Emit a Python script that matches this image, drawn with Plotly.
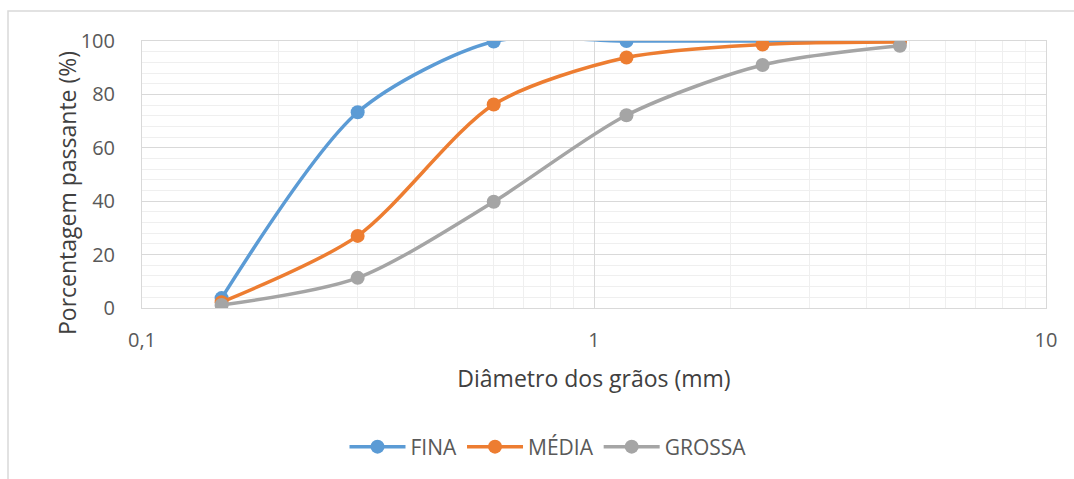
import plotly.graph_objects as go

# Sieve openings (mm) and percentage passing for each sand
abertura_mm = [0.15, 0.3, 0.6, 1.18, 2.36, 4.75]
fina = [3.7, 73.3, 99.8, 100.0, 100.0, 100.0]
media = [2.2, 27.0, 76.2, 93.8, 98.7, 99.6]
grossa = [1.1, 11.3, 39.8, 72.2, 91.0, 98.2]

series = [
    ("FINA", fina, "#5b9bd5"),
    ("MÉDIA", media, "#ed7d31"),
    ("GROSSA", grossa, "#a5a5a5"),
]

FONT = "Open Sans"
TXT = "#595959"
TITLE = "#404040"

fig = go.Figure()
for nome, valores, cor in series:
    fig.add_trace(go.Scatter(
        x=abertura_mm, y=valores, name=nome,
        mode="lines+markers",
        line=dict(color=cor, width=3.5, shape="spline", smoothing=0.8),
        marker=dict(color=cor, size=14),
    ))

L, R, T, B = 142, 28, 41, 171
W, H = 1074, 479
pw, ph = W - L - R, H - T - B

def px_x(p):
    return (p - L) / pw

def px_y(p):
    return (H - B - p) / ph

fig.update_layout(
    width=W, height=H,
    margin=dict(l=L, r=R, t=T, b=B),
    paper_bgcolor="white", plot_bgcolor="white",
    font=dict(family=FONT, size=19, color=TXT),
    showlegend=True,
    legend=dict(orientation="h", x=px_x(548), xanchor="center",
                y=px_y(447), yanchor="middle",
                font=dict(family=FONT, size=21, color=TXT),
                itemwidth=56, traceorder="normal"),
    xaxis=dict(
        type="log", range=[-1, 1],
        tickvals=[0.1, 1, 10], ticktext=["0,1", "1", "10"],
        tickfont=dict(family=FONT, size=20, color=TXT),
        showgrid=True, gridcolor="#d9d9d9", gridwidth=1,
        minor=dict(showgrid=True, gridcolor="#efefef",
                   tickvals=[v * d for d in (0.1, 1) for v in range(2, 10)]),
        showline=True, linecolor="#d9d9d9", mirror=True,
        ticks="", ticklen=0,
        title=dict(text="Diâmetro dos grãos (mm)", standoff=18,
                   font=dict(family=FONT, size=23, color=TITLE)),
        zeroline=False,
    ),
    yaxis=dict(
        range=[0, 100], dtick=20,
        tickfont=dict(family=FONT, size=20, color=TXT),
        showgrid=True, gridcolor="#d9d9d9", gridwidth=1,
        minor=dict(showgrid=True, gridcolor="#efefef", dtick=4),
        showline=True, linecolor="#d9d9d9", mirror=True,
        ticks="", ticklen=0,
        zeroline=False,
    ),
    annotations=[dict(text="Porcentagem passante (%)", textangle=-90,
                      xref="paper", yref="paper",
                      x=px_x(67), y=px_y(193),
                      xanchor="center", yanchor="middle", showarrow=False,
                      font=dict(family=FONT, size=23, color=TITLE))],
    shapes=[dict(type="rect", xref="paper", yref="paper",
                 x0=px_x(8), x1=1.1, y0=-0.8, y1=px_y(11),
                 line=dict(color="#d9d9d9", width=1.5), layer="below")],
)
fig.update_xaxes(ticklabelstandoff=14)
fig.update_yaxes(ticklabelstandoff=22)

fig.write_html("out.html")
